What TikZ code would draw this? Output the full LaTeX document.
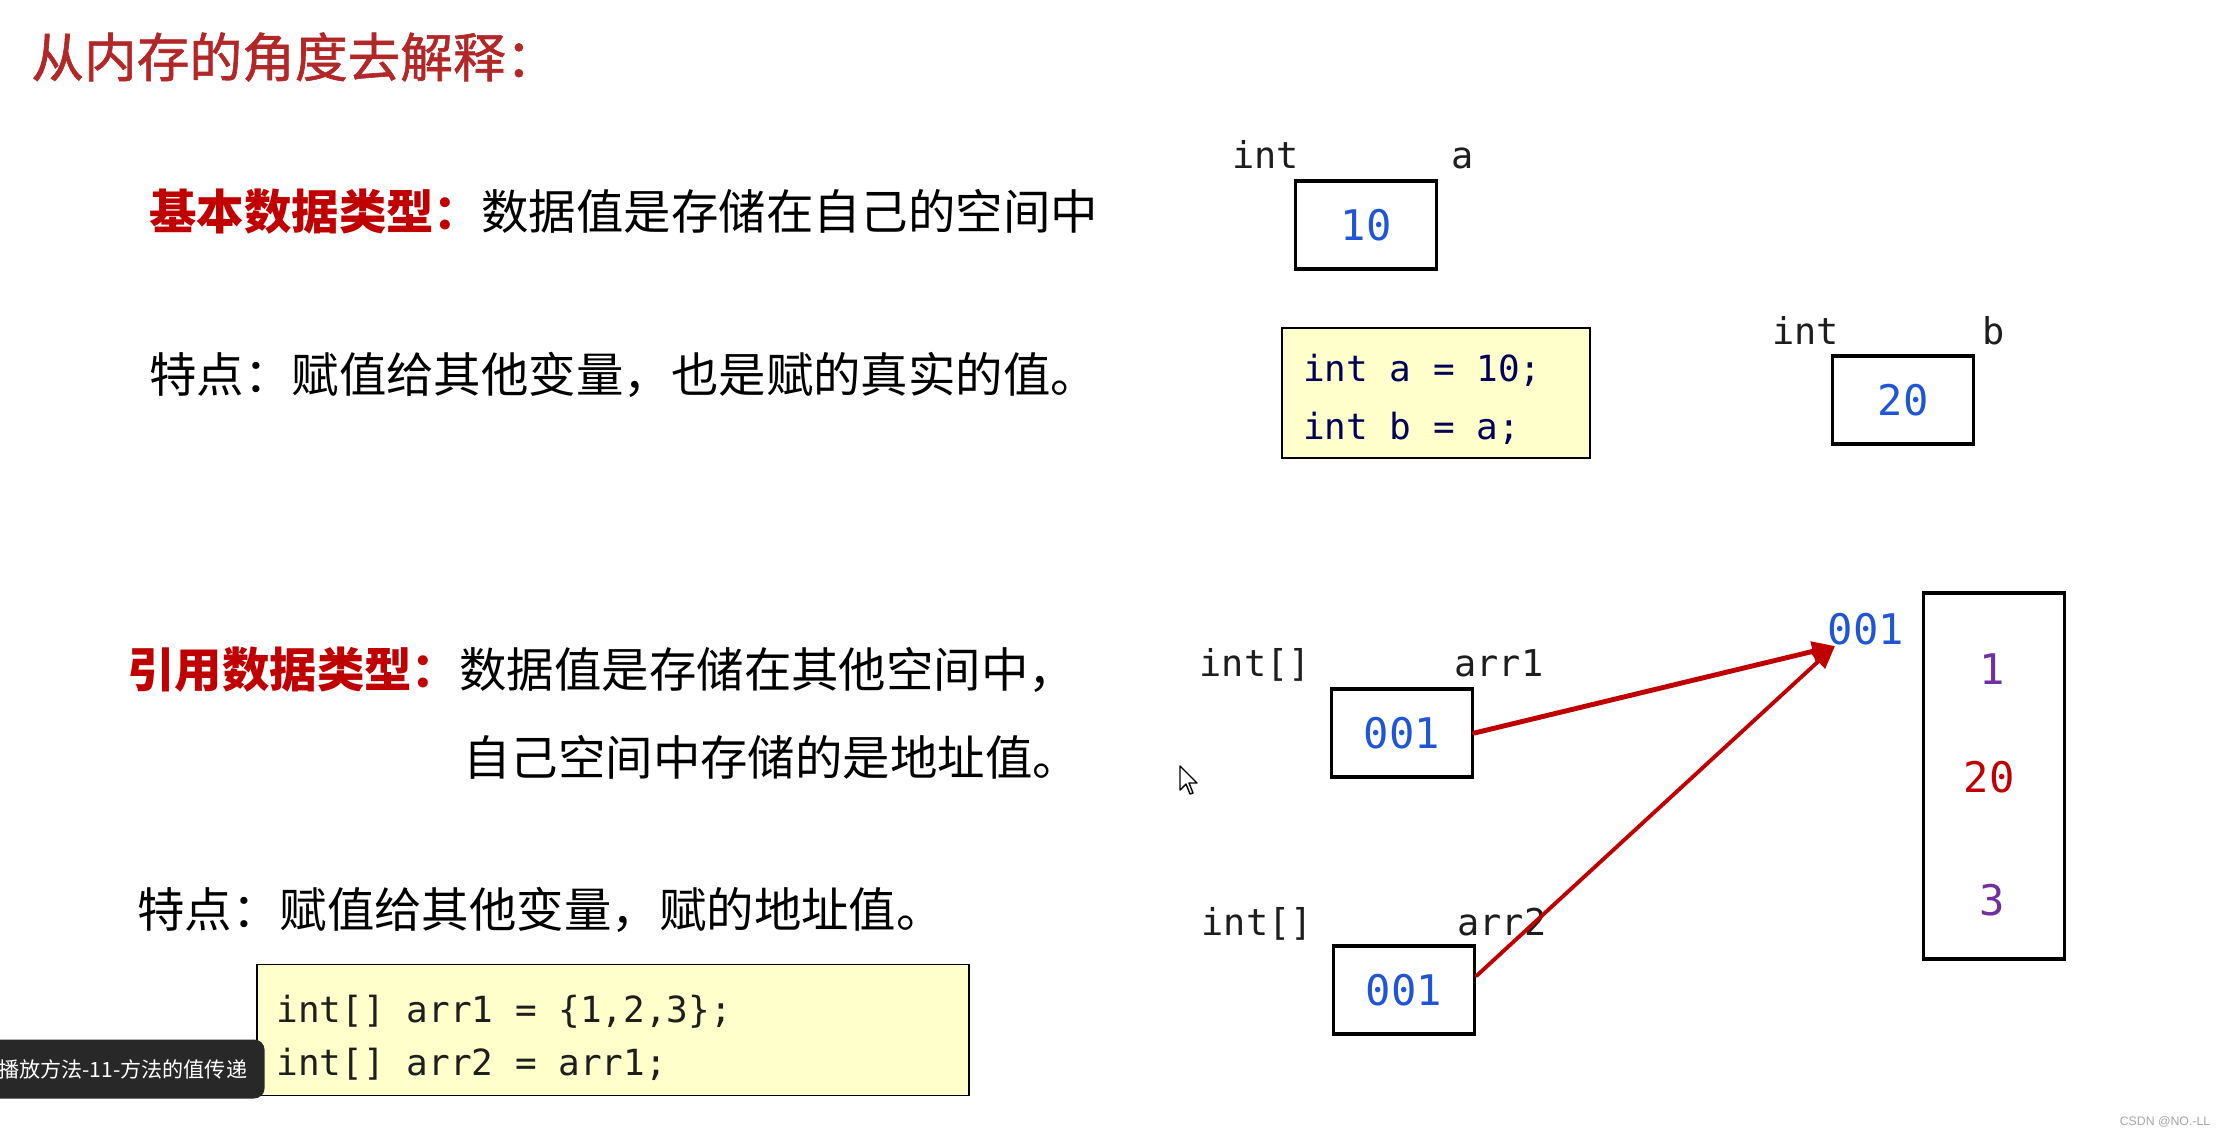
\documentclass[tikz,border=0pt]{standalone}
\usepackage{xcolor}
\usepackage{fontspec}
\setmainfont{Noto Sans CJK SC}
\setsansfont{Liberation Sans}
\setmonofont{DejaVu Sans Mono}
\newfontfamily\titlefont{Noto Sans CJK SC}[FakeBold=1.2]
\usepackage{tikz}
\usetikzlibrary{arrows.meta, positioning}
\definecolor{titlered}{RGB}{178,40,40}
\definecolor{headred}{RGB}{192,0,0}
\definecolor{valblue}{RGB}{31,85,214}
\definecolor{valpurple}{RGB}{112,48,160}
\definecolor{codebg}{RGB}{255,255,204}
\definecolor{codenavy}{RGB}{0,0,90}
\definecolor{lblgray}{RGB}{30,30,30}
\definecolor{overlay}{RGB}{40,40,40}
% one full mono cell of blank space
\newcommand{\msp}{\phantom{0}}

\begin{document}
\begin{tikzpicture}[x=0.02cm, y=-0.02cm,
      txt/.style={anchor=west, inner sep=0pt, font=\fontsize{27pt}{31pt}\selectfont},
      lbl/.style={inner sep=0pt, text=lblgray, font=\fontsize{21pt}{25pt}\ttfamily},
      cell/.style={draw, line width=2.2pt, minimum width=2.82cm, minimum height=1.76cm,
                   inner sep=0pt, text=valblue, font=\fontsize{24pt}{28pt}\ttfamily},
      val/.style={inner sep=0pt, font=\fontsize{24pt}{28pt}\ttfamily},
      codebox/.style={draw, line width=1.1pt, fill=codebg, align=left, inner ysep=0pt},
      ptr/.style={-{Triangle[length=13pt, width=11pt]}, draw=headred, line cap=round}
    ]
      \useasboundingbox[fill=white] (0,0) rectangle (2218,1136);

      % headings
      \node[txt, text=titlered, font=\fontsize{30pt}{34pt}\titlefont] (title) at (31,57) {从内存的角度去解释：};
      \node[txt] (head1) at (149,212) {{\color{headred}\bfseries 基本数据类型：}数据值是存储在自己的空间中};
      \node[txt] (feat1) at (149,375) {特点：赋值给其他变量，也是赋的真实的值。};
      \node[txt] (head2) at (127,670) {{\color{headred}\bfseries 引用数据类型：}数据值是存储在其他空间中，};
      \node[txt] (head2b) at (463,757) {自己空间中存储的是地址值。};
      \node[txt] (feat2) at (137,910) {特点：赋值给其他变量，赋的地址值。};

      % basic types
      \node[cell] (va) at (1366,225) {10};
      \node[lbl, anchor=base east] (vaType) at (1299,168) {int};
      \node[lbl, anchor=base west] (vaName) at (1451,168) {a};
      \node[codebox, text=codenavy, minimum width=6.16cm, minimum height=2.6cm,
            text width=5.32cm, inner xsep=0.42cm, font=\fontsize{20.5pt}{33pt}\ttfamily]
            (code1) at (1436,393) {\rule{0pt}{1.1em}int\msp a\msp=\msp10;\\int\msp b\msp=\msp a;};
      \node[cell] (vb) at (1903,400) {20};
      \node[lbl, anchor=base east] (vbType) at (1839,344) {int};
      \node[lbl, anchor=base west] (vbName) at (1982,344) {b};

      % reference types
      \node[cell] (arrA) at (1402,733) {001};
      \node[lbl, anchor=base east] (arrAType) at (1311,676) {int[]};
      \node[lbl, anchor=base west] (arrAName) at (1454,676) {arr1};
      \node[cell] (arrB) at (1404,990) {001};
      \node[lbl, anchor=base east] (arrBType) at (1313,935) {int[]};
      \node[lbl, anchor=base west] (arrBName) at (1457,935) {arr2};
      \node[codebox, text=lblgray, minimum width=14.26cm, minimum height=2.62cm,
            text width=13.46cm, inner xsep=0.4cm, font=\fontsize{20.5pt}{30.5pt}\ttfamily]
            (code2) at (613,1030) {\rule{0pt}{1.2em}int[]\msp arr1\msp=\msp\{1,2,3\};\\int[]\msp arr2\msp=\msp arr1;};

      % heap array
      \node[draw, line width=2.2pt, minimum width=2.82cm, minimum height=7.32cm] (heap) at (1994,776) {};
      \node[val, text=valblue] (addr) at (1866,629) {001};
      \node[val, text=valpurple] (e1) at (1992,669) {1};
      \node[val, text=headred] (e2) at (1989,777) {20};
      \node[val, text=valpurple] (e3) at (1992,900) {3};
      \coordinate (tip) at (1835,646);

      \draw[ptr, line width=2.8pt] (arrA.east) -- (tip);
      \draw[ptr, line width=2.2pt] (arrB.11) -- (tip);

      % screen leftovers
      \node[fill=overlay, rounded corners=6pt, text=white, anchor=east, minimum height=1.18cm,
            inner xsep=0.35cm, font=\fontsize{12pt}{14pt}\selectfont] (play) at (265,1069) {播放方法-11-方法的值传递};
      \node[text=gray!70, inner sep=0pt, font=\fontsize{7pt}{8pt}\sffamily] (mark) at (2165,1122) {CSDN @NO.-LL};
      \draw[fill=white, line width=0.8pt, line join=round, shift={(1180,766)}]
        (0,0) -- (0,24) -- (6,18) -- (10,28) -- (13,27) -- (9,17) -- (17,17) -- cycle;
    \end{tikzpicture}
\end{document}
